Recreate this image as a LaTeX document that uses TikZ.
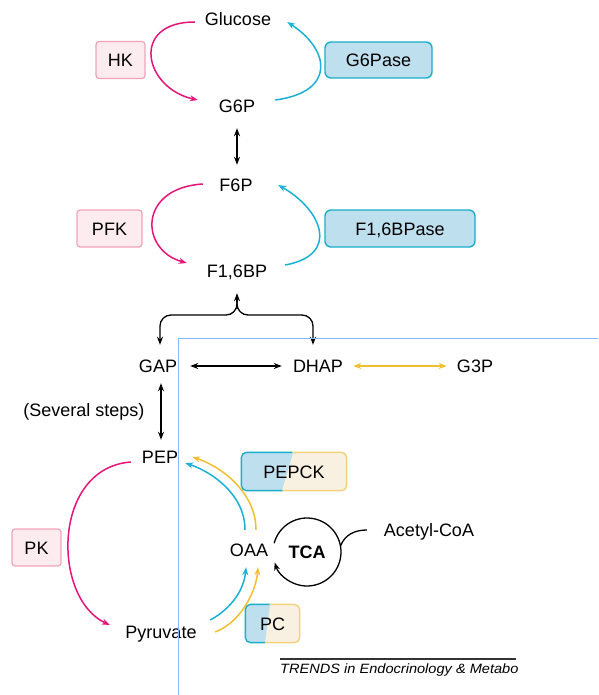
\documentclass[tikz,border=0pt]{standalone}
\usepackage{fontspec}
\setmainfont{Liberation Sans}
\usetikzlibrary{arrows.meta}
\definecolor{pinkarr}{HTML}{E5157A}
\definecolor{cyanarr}{HTML}{1BB1D6}
\definecolor{yelarr}{HTML}{F0C030}
\definecolor{pinkfill}{HTML}{FCEBEF}
\definecolor{pinkline}{HTML}{F2A3BC}
\definecolor{bluefill}{HTML}{BEDFEE}
\definecolor{blueline}{HTML}{1AAFCB}
\definecolor{beigefill}{HTML}{F8F0E0}
\definecolor{beigeline}{HTML}{F2D27A}
\definecolor{frameblue}{HTML}{80BBFF}
\begin{document}
\begin{tikzpicture}[x=1pt,y=-1pt,
  every node/.style={font=\fontsize{18}{20}\selectfont, inner sep=0pt, text height=13pt, text depth=0pt},
  enz/.style={minimum height=37pt, line width=1.2pt},
  pinkbox/.style={enz, fill=pinkfill, draw=pinkline, rounded corners=3pt},
  bluebox/.style={enz, fill=bluefill, draw=blueline, rounded corners=6pt, line width=1.4pt},
  splitbox/.style 2 args={enz, path picture={
     \fill[beigefill] (path picture bounding box.south west) rectangle (path picture bounding box.north east);
     \fill[bluefill] (path picture bounding box.south west) -- ([xshift=#1 pt]path picture bounding box.south west)
        -- ([xshift=#2 pt]path picture bounding box.north west) -- (path picture bounding box.north west) -- cycle;}},
  tipend/.style={-{Stealth[length=8pt,width=6pt]}},
  dbl/.style={{Stealth[length=8pt,width=6pt]}-{Stealth[length=8pt,width=6pt]}},
  pk/.style={pinkarr, line width=1.5pt, tipend},
  cy/.style={cyanarr, line width=1.5pt, tipend},
  yl/.style={yelarr, line width=1.5pt, tipend},
  blk/.style={black, line width=1.3pt}
]
\useasboundingbox (0,0) rectangle (598,695);

% metabolites
\node (glc) at (238,19) {Glucose};
\node (g6p) at (237,106) {G6P};
\node (f6p) at (236,185) {F6P};
\node (f16bp) at (237,271) {F1,6BP};
\node (gap) at (158,366) {GAP};
\node (dhap) at (318,366) {DHAP};
\node (g3p) at (475,366) {G3P};
\node (steps) at (84,410) {(Several steps)};
\node (pep) at (160,457) {PEP};
\node (pyr) at (161,632) {Pyruvate};
\node (oaa) at (249,550) {OAA};
\node[font=\fontsize{18}{20}\selectfont\bfseries] (tca) at (307,552) {TCA};
\node (acoa) at (429,530) {Acetyl-CoA};

% enzymes
\node[pinkbox, minimum width=49pt] (hk) at (120.5,60) {HK};
\node[bluebox, minimum width=107pt, minimum height=36pt] (g6pase) at (378.5,60) {G6Pase};
\node[pinkbox, minimum width=65pt] (pfk) at (109.5,228.5) {PFK};
\node[bluebox, minimum width=150pt] (fbpase) at (400,228.5) {F1,6BPase};
\node[pinkbox, minimum width=49pt] (pkbox) at (36.5,547.5) {PK};
\node[splitbox={40}{51}, minimum width=104pt] (pepck) at (294,471.5) {PEPCK};
\node[splitbox={19}{24}, minimum width=53pt] (pc) at (272.5,623.5) {PC};

% split borders
\begin{scope}
  \clip (239,450) -- (293,450) -- (282,493) -- (239,493) -- cycle;
  \draw[blueline, line width=1.4pt, rounded corners=5pt] (pepck.north west) rectangle (pepck.south east);
\end{scope}
\begin{scope}
  \clip (293,450) -- (349,450) -- (349,493) -- (282,493) -- cycle;
  \draw[beigeline, line width=1.4pt, rounded corners=5pt] (pepck.north west) rectangle (pepck.south east);
\end{scope}
\begin{scope}
  \clip (243,602) -- (270,602) -- (265,645) -- (243,645) -- cycle;
  \draw[blueline, line width=1.4pt, rounded corners=5pt] (pc.north west) rectangle (pc.south east);
\end{scope}
\begin{scope}
  \clip (270,602) -- (302,602) -- (302,645) -- (265,645) -- cycle;
  \draw[beigeline, line width=1.4pt, rounded corners=5pt] (pc.north west) rectangle (pc.south east);
\end{scope}

% HK / G6Pase cycle
\draw[pk] ([shift={(-10,3)}]glc.west) .. controls +(-65,0) and +(-54,-12) .. ([shift={(-21,-6)}]g6p.west);
\draw[cy] ([shift={(20,-6)}]g6p.east) .. controls +(61,-8) and +(43,28) .. ([shift={(16,3)}]glc.east);
\draw[blk, dbl] ([shift={(0,15.5)}]g6p.south) -- ([shift={(1,-13.5)}]f6p.north);

% PFK / F1,6BPase cycle
\draw[pk] ([shift={(-16.5,-1)}]f6p.west) .. controls +(-65,4) and +(-47,-13) .. ([shift={(-20,-8)}]f16bp.west);
\draw[cy] ([shift={(18,-6)}]f16bp.east) .. controls +(55,-10) and +(44,25) .. ([shift={(25.5,0)}]f6p.east);

% brace
\coordinate (brc) at (237,302);
\draw[blk, tipend] (brc) -- ([shift={(0,15.5)}]f16bp.south);
\draw[blk, tipend, rounded corners=11pt] (brc) -- (237,315) -- (160,315) -- ([shift={(2,-14.5)}]gap.north);
\draw[blk, tipend, rounded corners=11pt] (brc) -- (237,315) -- (313,315) -- ([shift={(-5,-14.5)}]dhap.north);

% triose phosphates
\draw[blk, dbl] ([shift={(13,0)}]gap.east) -- ([shift={(-11,0)}]dhap.west);
\draw[yelarr, line width=1.5pt, dbl] ([shift={(10,0)}]dhap.east) -- ([shift={(-10,0)}]g3p.west);
\draw[blk, dbl] ([shift={(3,10.5)}]gap.south) -- ([shift={(1,-10.5)}]pep.north);

% PK
\draw[pk] ([shift={(-11,5)}]pep.west) .. controls +(-79,6) and +(-58,-27) .. ([shift={(-15.5,-7)}]pyr.west);

% PEPCK
\draw[cy] ([shift={(-4,-13.5)}]oaa.north) .. controls +(0,-35) and +(27,9) .. ([shift={(7,6)}]pep.east);
\draw[yl] ([shift={(7,-13.5)}]oaa.north) .. controls +(0,-38) and +(28,9) .. ([shift={(14,0)}]pep.east);

% PC
\draw[cy] ([shift={(13.5,-12)}]pyr.east) .. controls +(22,-12) and +(-2,22) .. ([shift={(-3,10.5)}]oaa.south);
\draw[yl] ([shift={(18.5,0)}]pyr.east) .. controls +(26,-10) and +(-2,24) .. ([shift={(9,10.5)}]oaa.south);

% TCA
\draw[blk, tipend] ([shift={(165:34pt)}]tca.center) arc[start angle=165, end angle=-162, radius=34pt];
\draw[blk] ([shift={(10:34pt)}]tca.center) to[out=70, in=180] ([shift={(-17,0)}]acoa.west);

% footer
\node[font=\fontsize{13.5}{14}\selectfont\itshape, anchor=west, xscale=1.08, text height=9.5pt] (trends) at (280,669) {TRENDS in Endocrinology \& Metabo};
\draw[black!80, line width=2pt] (280,659) -- (516,659);

% frame
\draw[frameblue, line width=1pt] (178,695) -- (178,338) -- (598,338);
\end{tikzpicture}
\end{document}
